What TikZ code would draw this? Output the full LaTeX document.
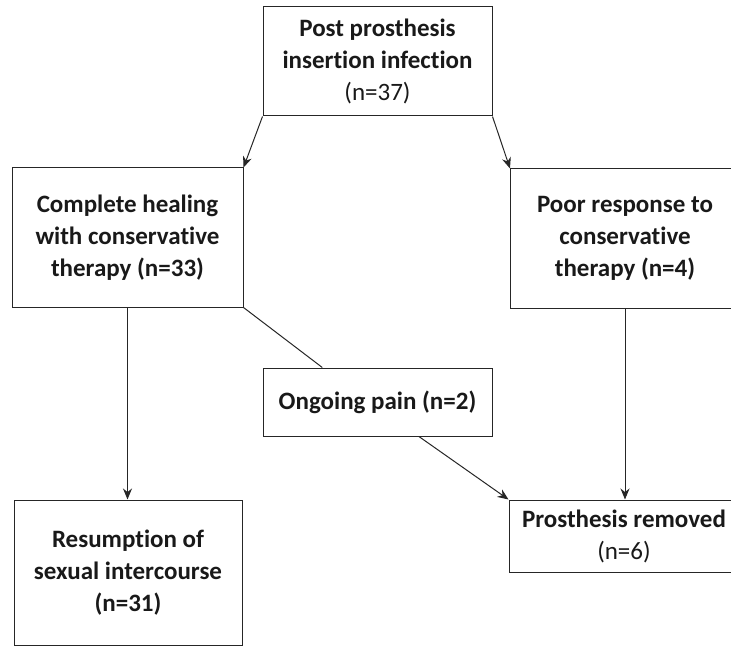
\documentclass[tikz,border=0pt]{standalone}
\usepackage{fontspec}
\setmainfont{Carlito}[Ligatures={NoCommon}]
\usetikzlibrary{arrows.meta, calc}
\tikzset{>={Stealth[length=11pt, width=9pt]}}
\tikzset{flowbox/.style={draw=black!85, line width=1pt, align=center, inner sep=0pt,
  font=\fontsize{25}{32}\selectfont\bfseries, text=black!90}}

\begin{document}
\begin{tikzpicture}[x=1pt, y=1pt, line width=1pt, draw=black!85]
\clip (0,0) rectangle (731,-647);
\node[flowbox, minimum width=229pt, minimum height=109pt] (infect) at (377.5,-61.5) {Post prosthesis\\insertion infection\\{\mdseries (n=37)}};
\node[flowbox, minimum width=231pt, minimum height=139pt] (heal) at (127.5,-237.5) {Complete healing\\with conservative\\therapy (n=33)};
\node[flowbox, minimum width=229pt, minimum height=139pt] (poor) at (625,-238.5) {Poor response to\\conservative\\therapy (n=4)};
\node[flowbox, minimum width=229pt, minimum height=68pt] (pain) at (377.5,-402) {Ongoing pain (n=2)};
\node[flowbox, minimum width=228pt, minimum height=145pt] (resume) at (128,-572.5) {Resumption of\\sexual intercourse\\(n=31)};
\node[flowbox, minimum width=230pt, minimum height=72pt] (removed) at (624,-536) {Prosthesis removed\\{\mdseries (n=6)}};
\coordinate (painin) at ($(pain.north west)!0.26!(pain.north east)$);
\coordinate (painout) at ($(pain.south west)!0.68!(pain.south east)$);
\draw[->] (infect.south west) -- (heal.north east);
\draw[->] (infect.south east) -- (poor.north west);
\draw[->] (heal.south) -- (heal.south |- resume.north);
\draw (heal.south east) -- (painin);
\draw[->] (painout) -- (removed.north west);
\draw[->] (poor.south) -- (poor.south |- removed.north);
\end{tikzpicture}
\end{document}
